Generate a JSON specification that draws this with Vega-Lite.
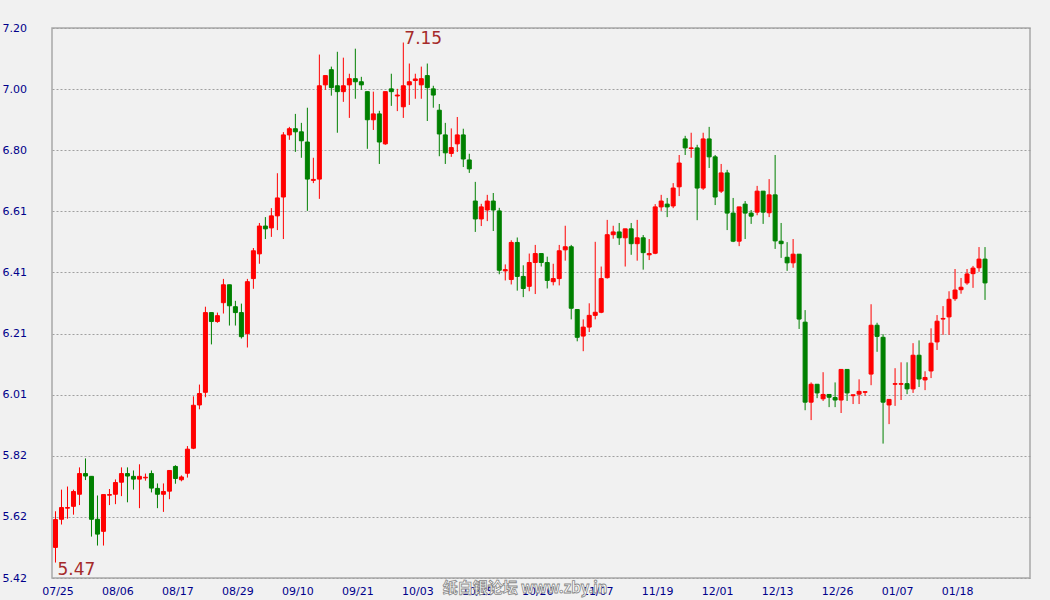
{
  "$schema": "https://vega.github.io/schema/vega-lite/v6.json",
  "width": 978,
  "height": 550,
  "autosize": "none",
  "padding": {"left": 52, "top": 28, "right": 20, "bottom": 22},
  "background": "#f1f1f1",
  "config": {
    "view": {"stroke": "#a8a8a8", "strokeWidth": 1.5, "fill": "#f1f1f1"},
    "axis": {"labelFont": "DejaVu Sans", "labelFontSize": 11, "labelColor": "#00008b", "ticks": false, "domain": false, "title": null}
  },
  "data": {"values": [
    {"d":"07/25","o":5.519,"h":5.636,"l":5.47,"c":5.609},
    {"d":"07/26","o":5.610,"h":5.706,"l":5.593,"c":5.648},
    {"d":"07/27","o":5.646,"h":5.716,"l":5.612,"c":5.648},
    {"d":"07/28","o":5.652,"h":5.706,"l":5.625,"c":5.700},
    {"d":"07/30","o":5.691,"h":5.778,"l":5.656,"c":5.758},
    {"d":"07/31","o":5.758,"h":5.807,"l":5.737,"c":5.750},
    {"d":"08/01","o":5.749,"h":5.749,"l":5.554,"c":5.610},
    {"d":"08/02","o":5.610,"h":5.687,"l":5.525,"c":5.562},
    {"d":"08/03","o":5.571,"h":5.690,"l":5.525,"c":5.690},
    {"d":"08/04","o":5.688,"h":5.708,"l":5.656,"c":5.690},
    {"d":"08/06","o":5.691,"h":5.739,"l":5.659,"c":5.729},
    {"d":"08/07","o":5.730,"h":5.778,"l":5.685,"c":5.758},
    {"d":"08/08","o":5.758,"h":5.778,"l":5.665,"c":5.750},
    {"d":"08/09","o":5.749,"h":5.768,"l":5.706,"c":5.740},
    {"d":"08/10","o":5.740,"h":5.788,"l":5.646,"c":5.749},
    {"d":"08/11","o":5.744,"h":5.758,"l":5.735,"c":5.746},
    {"d":"08/13","o":5.758,"h":5.768,"l":5.697,"c":5.711},
    {"d":"08/14","o":5.710,"h":5.726,"l":5.646,"c":5.691},
    {"d":"08/15","o":5.691,"h":5.726,"l":5.634,"c":5.700},
    {"d":"08/16","o":5.701,"h":5.768,"l":5.675,"c":5.768},
    {"d":"08/17","o":5.781,"h":5.785,"l":5.725,"c":5.742},
    {"d":"08/18","o":5.738,"h":5.752,"l":5.733,"c":5.747},
    {"d":"08/20","o":5.759,"h":5.847,"l":5.745,"c":5.837},
    {"d":"08/21","o":5.840,"h":6.008,"l":5.837,"c":5.979},
    {"d":"08/22","o":5.980,"h":6.046,"l":5.966,"c":6.017},
    {"d":"08/23","o":6.021,"h":6.298,"l":6.005,"c":6.279},
    {"d":"08/24","o":6.279,"h":6.279,"l":6.176,"c":6.250},
    {"d":"08/25","o":6.250,"h":6.279,"l":6.246,"c":6.269},
    {"d":"08/27","o":6.311,"h":6.388,"l":6.276,"c":6.369},
    {"d":"08/28","o":6.369,"h":6.369,"l":6.237,"c":6.301},
    {"d":"08/29","o":6.298,"h":6.317,"l":6.237,"c":6.279},
    {"d":"08/30","o":6.279,"h":6.308,"l":6.195,"c":6.201},
    {"d":"08/31","o":6.211,"h":6.388,"l":6.166,"c":6.379},
    {"d":"09/01","o":6.389,"h":6.488,"l":6.356,"c":6.479},
    {"d":"09/03","o":6.469,"h":6.569,"l":6.437,"c":6.559},
    {"d":"09/04","o":6.559,"h":6.588,"l":6.517,"c":6.550},
    {"d":"09/05","o":6.553,"h":6.617,"l":6.524,"c":6.592},
    {"d":"09/06","o":6.592,"h":6.730,"l":6.546,"c":6.650},
    {"d":"09/07","o":6.653,"h":6.863,"l":6.517,"c":6.854},
    {"d":"09/08","o":6.854,"h":6.880,"l":6.838,"c":6.874},
    {"d":"09/10","o":6.874,"h":6.922,"l":6.799,"c":6.864},
    {"d":"09/11","o":6.864,"h":6.893,"l":6.780,"c":6.835},
    {"d":"09/12","o":6.831,"h":6.942,"l":6.608,"c":6.711},
    {"d":"09/13","o":6.707,"h":6.780,"l":6.698,"c":6.710},
    {"d":"09/14","o":6.711,"h":7.114,"l":6.647,"c":7.013},
    {"d":"09/15","o":7.016,"h":7.046,"l":7.000,"c":7.046},
    {"d":"09/17","o":7.065,"h":7.075,"l":6.981,"c":7.007},
    {"d":"09/18","o":7.013,"h":7.123,"l":6.861,"c":6.994},
    {"d":"09/19","o":6.994,"h":7.104,"l":6.961,"c":7.013},
    {"d":"09/20","o":7.016,"h":7.052,"l":6.909,"c":7.036},
    {"d":"09/21","o":7.036,"h":7.133,"l":6.971,"c":7.026},
    {"d":"09/22","o":7.026,"h":7.042,"l":7.000,"c":7.016},
    {"d":"09/24","o":6.994,"h":6.994,"l":6.809,"c":6.903},
    {"d":"09/25","o":6.903,"h":6.994,"l":6.870,"c":6.922},
    {"d":"09/26","o":6.922,"h":6.932,"l":6.760,"c":6.831},
    {"d":"09/27","o":6.825,"h":6.994,"l":6.822,"c":6.994},
    {"d":"09/28","o":7.003,"h":7.052,"l":6.948,"c":6.994},
    {"d":"09/29","o":6.980,"h":7.003,"l":6.931,"c":6.983},
    {"d":"10/01","o":6.945,"h":7.153,"l":6.909,"c":7.013},
    {"d":"10/02","o":7.016,"h":7.085,"l":6.951,"c":7.026},
    {"d":"10/03","o":7.030,"h":7.052,"l":6.971,"c":7.035},
    {"d":"10/04","o":7.016,"h":7.075,"l":6.971,"c":7.036},
    {"d":"10/05","o":7.046,"h":7.085,"l":6.899,"c":7.007},
    {"d":"10/06","o":7.003,"h":7.013,"l":6.942,"c":6.983},
    {"d":"10/08","o":6.934,"h":6.954,"l":6.785,"c":6.857},
    {"d":"10/09","o":6.854,"h":6.893,"l":6.760,"c":6.796},
    {"d":"10/10","o":6.794,"h":6.875,"l":6.783,"c":6.813},
    {"d":"10/11","o":6.825,"h":6.912,"l":6.799,"c":6.854},
    {"d":"10/12","o":6.854,"h":6.874,"l":6.750,"c":6.776},
    {"d":"10/13","o":6.773,"h":6.793,"l":6.731,"c":6.744},
    {"d":"10/15","o":6.640,"h":6.702,"l":6.540,"c":6.582},
    {"d":"10/16","o":6.582,"h":6.631,"l":6.559,"c":6.621},
    {"d":"10/17","o":6.611,"h":6.660,"l":6.575,"c":6.640},
    {"d":"10/18","o":6.640,"h":6.666,"l":6.543,"c":6.611},
    {"d":"10/19","o":6.608,"h":6.618,"l":6.403,"c":6.416},
    {"d":"10/20","o":6.414,"h":6.435,"l":6.383,"c":6.418},
    {"d":"10/22","o":6.386,"h":6.513,"l":6.370,"c":6.506},
    {"d":"10/23","o":6.506,"h":6.522,"l":6.350,"c":6.396},
    {"d":"10/24","o":6.396,"h":6.432,"l":6.329,"c":6.357},
    {"d":"10/25","o":6.364,"h":6.470,"l":6.348,"c":6.441},
    {"d":"10/26","o":6.441,"h":6.498,"l":6.339,"c":6.470},
    {"d":"10/27","o":6.470,"h":6.470,"l":6.428,"c":6.441},
    {"d":"10/29","o":6.441,"h":6.460,"l":6.357,"c":6.383},
    {"d":"10/30","o":6.379,"h":6.437,"l":6.367,"c":6.389},
    {"d":"10/31","o":6.389,"h":6.498,"l":6.367,"c":6.479},
    {"d":"11/01","o":6.482,"h":6.560,"l":6.447,"c":6.492},
    {"d":"11/02","o":6.492,"h":6.498,"l":6.257,"c":6.293},
    {"d":"11/03","o":6.289,"h":6.289,"l":6.186,"c":6.199},
    {"d":"11/05","o":6.203,"h":6.257,"l":6.154,"c":6.232},
    {"d":"11/06","o":6.232,"h":6.309,"l":6.216,"c":6.270},
    {"d":"11/07","o":6.270,"h":6.508,"l":6.257,"c":6.280},
    {"d":"11/08","o":6.280,"h":6.428,"l":6.277,"c":6.389},
    {"d":"11/09","o":6.392,"h":6.579,"l":6.389,"c":6.531},
    {"d":"11/10","o":6.531,"h":6.560,"l":6.518,"c":6.540},
    {"d":"11/12","o":6.540,"h":6.569,"l":6.498,"c":6.521},
    {"d":"11/13","o":6.521,"h":6.550,"l":6.428,"c":6.550},
    {"d":"11/14","o":6.550,"h":6.569,"l":6.466,"c":6.502},
    {"d":"11/15","o":6.502,"h":6.579,"l":6.447,"c":6.521},
    {"d":"11/16","o":6.521,"h":6.530,"l":6.418,"c":6.473},
    {"d":"11/17","o":6.466,"h":6.517,"l":6.449,"c":6.470},
    {"d":"11/19","o":6.471,"h":6.630,"l":6.468,"c":6.621},
    {"d":"11/20","o":6.621,"h":6.660,"l":6.608,"c":6.640},
    {"d":"11/21","o":6.630,"h":6.650,"l":6.588,"c":6.621},
    {"d":"11/23","o":6.624,"h":6.698,"l":6.617,"c":6.682},
    {"d":"11/24","o":6.686,"h":6.789,"l":6.656,"c":6.763},
    {"d":"11/26","o":6.841,"h":6.851,"l":6.789,"c":6.812},
    {"d":"11/27","o":6.810,"h":6.861,"l":6.780,"c":6.812},
    {"d":"11/28","o":6.812,"h":6.822,"l":6.578,"c":6.682},
    {"d":"11/29","o":6.682,"h":6.861,"l":6.676,"c":6.841},
    {"d":"11/30","o":6.841,"h":6.880,"l":6.747,"c":6.783},
    {"d":"12/01","o":6.783,"h":6.789,"l":6.627,"c":6.653},
    {"d":"12/03","o":6.672,"h":6.760,"l":6.666,"c":6.731},
    {"d":"12/04","o":6.731,"h":6.741,"l":6.546,"c":6.601},
    {"d":"12/05","o":6.601,"h":6.650,"l":6.507,"c":6.510},
    {"d":"12/06","o":6.510,"h":6.621,"l":6.494,"c":6.621},
    {"d":"12/07","o":6.630,"h":6.640,"l":6.517,"c":6.601},
    {"d":"12/08","o":6.601,"h":6.611,"l":6.566,"c":6.591},
    {"d":"12/10","o":6.604,"h":6.689,"l":6.594,"c":6.672},
    {"d":"12/11","o":6.672,"h":6.672,"l":6.566,"c":6.604},
    {"d":"12/12","o":6.602,"h":6.711,"l":6.588,"c":6.660},
    {"d":"12/13","o":6.660,"h":6.789,"l":6.485,"c":6.511},
    {"d":"12/14","o":6.510,"h":6.569,"l":6.456,"c":6.502},
    {"d":"12/15","o":6.458,"h":6.507,"l":6.414,"c":6.440},
    {"d":"12/17","o":6.440,"h":6.517,"l":6.424,"c":6.468},
    {"d":"12/18","o":6.468,"h":6.468,"l":6.226,"c":6.258},
    {"d":"12/19","o":6.248,"h":6.287,"l":5.963,"c":5.989},
    {"d":"12/20","o":5.989,"h":6.053,"l":5.931,"c":6.047},
    {"d":"12/21","o":6.047,"h":6.047,"l":6.002,"c":6.019},
    {"d":"12/22","o":6.000,"h":6.086,"l":5.993,"c":6.014},
    {"d":"12/24","o":6.014,"h":6.014,"l":5.973,"c":6.005},
    {"d":"12/26","o":6.004,"h":6.053,"l":5.973,"c":5.996},
    {"d":"12/27","o":5.996,"h":6.095,"l":5.954,"c":6.095},
    {"d":"12/28","o":6.095,"h":6.095,"l":5.993,"c":6.019},
    {"d":"12/29","o":6.010,"h":6.013,"l":5.983,"c":6.013},
    {"d":"12/31","o":6.015,"h":6.063,"l":5.983,"c":6.024},
    {"d":"01/01","o":6.021,"h":6.023,"l":6.010,"c":6.023},
    {"d":"01/02","o":6.080,"h":6.306,"l":6.044,"c":6.238},
    {"d":"01/03","o":6.238,"h":6.246,"l":6.152,"c":6.202},
    {"d":"01/04","o":6.199,"h":6.209,"l":5.855,"c":5.989},
    {"d":"01/05","o":5.980,"h":5.998,"l":5.918,"c":5.998},
    {"d":"01/07","o":6.047,"h":6.099,"l":5.977,"c":6.049},
    {"d":"01/08","o":6.047,"h":6.118,"l":5.996,"c":6.049},
    {"d":"01/09","o":6.049,"h":6.118,"l":6.015,"c":6.032},
    {"d":"01/10","o":6.032,"h":6.180,"l":6.019,"c":6.141},
    {"d":"01/11","o":6.141,"h":6.189,"l":6.038,"c":6.064},
    {"d":"01/12","o":6.061,"h":6.089,"l":6.028,"c":6.069},
    {"d":"01/14","o":6.090,"h":6.228,"l":6.067,"c":6.180},
    {"d":"01/15","o":6.184,"h":6.271,"l":6.158,"c":6.251},
    {"d":"01/16","o":6.258,"h":6.300,"l":6.207,"c":6.260},
    {"d":"01/17","o":6.265,"h":6.348,"l":6.207,"c":6.322},
    {"d":"01/18","o":6.324,"h":6.420,"l":6.317,"c":6.352},
    {"d":"01/19","o":6.353,"h":6.391,"l":6.340,"c":6.361},
    {"d":"01/21","o":6.375,"h":6.420,"l":6.369,"c":6.404},
    {"d":"01/22","o":6.405,"h":6.430,"l":6.359,"c":6.423},
    {"d":"01/23","o":6.424,"h":6.491,"l":6.411,"c":6.452},
    {"d":"01/24","o":6.452,"h":6.491,"l":6.320,"c":6.375}
  ]},
  "transform": [{"window": [{"op": "row_number", "as": "n"}]}],
  "encoding": {
    "x": {
      "field": "n", "type": "quantitative",
      "scale": {"domain": [0.417, 163.5], "nice": false, "zero": false, "padding": 0},
      "axis": {
        "values": [1, 11, 21, 31, 41, 51, 61, 71, 81, 91, 101, 111, 121, 131, 141, 151],
        "labelExpr": "['07/25','08/06','08/17','08/29','09/10','09/21','10/03','10/15','10/26','11/07','11/19','12/01','12/13','12/26','01/07','01/18'][(datum.value-1)/10]",
        "grid": false, "labelFlush": false, "labelOverlap": false, "labelPadding": 7, "labelOffset": 2
      }
    }
  },
  "layer": [
    {
      "mark": {"type": "rule", "strokeWidth": 1},
      "encoding": {
        "y": {
          "field": "l", "type": "quantitative",
          "scale": {"domain": [5.42, 7.2], "nice": false, "zero": false, "padding": 0},
          "axis": {
            "values": [5.42, 5.617778, 5.815556, 6.013333, 6.211111, 6.408889, 6.606667, 6.804444, 7.002222, 7.2],
            "format": ".2f", "labelAlign": "left", "labelPadding": 50, "labelBaseline": "middle",
            "grid": true, "gridColor": "#a0a0a0", "gridDash": [2, 2], "gridWidth": 1
          }
        },
        "y2": {"field": "h"},
        "color": {"condition": {"test": "datum.c >= datum.o", "value": "#ff0000"}, "value": "#008000"}
      }
    },
    {
      "mark": {"type": "bar", "width": 4, "strokeWidth": 1},
      "encoding": {
        "y": {"field": "o", "type": "quantitative"},
        "y2": {"field": "c"},
        "fill": {"condition": {"test": "datum.c >= datum.o", "value": "#ff0000"}, "value": "#008000"},
        "stroke": {"condition": {"test": "datum.c >= datum.o", "value": "#ff0000"}, "value": "#008000"}
      }
    },
    {
      "transform": [
        {"joinaggregate": [{"op": "max", "field": "h", "as": "hmax"}]},
        {"filter": "datum.h == datum.hmax"}
      ],
      "mark": {"type": "text", "align": "left", "baseline": "alphabetic", "dx": 1, "dy": 1, "font": "DejaVu Sans", "fontSize": 17, "color": "#a52a2a"},
      "encoding": {
        "y": {"field": "h", "type": "quantitative"},
        "text": {"field": "h", "type": "quantitative", "format": ".2f"}
      }
    },
    {
      "transform": [
        {"joinaggregate": [{"op": "min", "field": "l", "as": "lmin"}]},
        {"filter": "datum.l == datum.lmin"}
      ],
      "mark": {"type": "text", "align": "left", "baseline": "top", "dx": 2, "dy": -1, "font": "DejaVu Sans", "fontSize": 17, "color": "#a52a2a"},
      "encoding": {
        "y": {"field": "l", "type": "quantitative"},
        "text": {"field": "l", "type": "quantitative", "format": ".2f"}
      }
    },
    {
      "data": {"values": [{"t": "纸白银论坛 www.zby.in", "pos": 79.3, "v": 5.388}]},
      "transform": [],
      "mark": {"type": "text", "align": "center", "baseline": "middle", "font": "Noto Sans CJK SC", "fontSize": 15, "fontWeight": "bold", "fill": "#ffffff", "stroke": "#888888", "strokeWidth": 0.8},
      "encoding": {
        "x": {"field": "pos", "type": "quantitative"},
        "y": {"field": "v", "type": "quantitative"},
        "text": {"field": "t"}
      }
    }
  ]
}
